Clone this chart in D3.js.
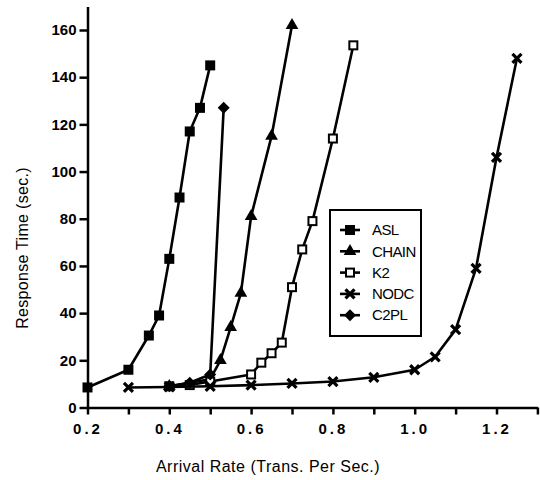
<!DOCTYPE html>
<html>
<head>
<meta charset="utf-8">
<script src="https://cdn.jsdelivr.net/npm/d3@7"></script>
<style>
  body { margin: 0; background: #fff; }
  text { font-family: "Liberation Sans", Arial, Helvetica, sans-serif; fill: #000; }
</style>
</head>
<body>
<div id="svgcontainer"></div>
<script>
// values
var seriesNames = ["ASL", "CHAIN", "K2", "NODC", "C2PL"];

var aslX = [0.2, 0.3, 0.35, 0.375, 0.4, 0.425, 0.45, 0.475, 0.5];
var aslY = [8.5, 16, 30.5, 39, 63, 89, 117, 127, 145];

var chainX = [0.4, 0.5, 0.525, 0.55, 0.575, 0.6, 0.65, 0.7];
var chainY = [9, 12, 20, 34, 48.5, 81, 115, 162];

var k2X = [0.4, 0.45, 0.5, 0.6, 0.625, 0.65, 0.675, 0.7, 0.725, 0.75, 0.8, 0.85];
var k2Y = [9, 9.5, 11, 14, 19, 23, 27.5, 51, 67, 79, 114, 153.5];

var nodcX = [0.3, 0.4, 0.5, 0.6, 0.7, 0.8, 0.9, 1.0, 1.05, 1.1, 1.15, 1.2, 1.25];
var nodcY = [8.5, 8.7, 9, 9.5, 10.2, 11, 12.8, 16, 21.5, 33, 59, 106, 148];

var c2plX = [0.4, 0.45, 0.5, 0.533];
var c2plY = [9, 10.5, 14, 127];

var xTicks = [0.2, 0.3, 0.4, 0.5, 0.6, 0.7, 0.8, 0.9, 1.0, 1.1, 1.2, 1.3];
var yTicks = [0, 20, 40, 60, 80, 100, 120, 140, 160];

/**
 * sizes
 */
var width = 540, height = 480;

var svg = d3.select("#svgcontainer")
    .append("svg")
    .attr("width", width)
    .attr("height", height);

var x = d3.scaleLinear().domain([0.2, 1.3]).range([87.5, 537.4]);
var y = d3.scaleLinear().domain([0, 170]).range([407.5, 6.4]);

/**
 * axes
 */
var xAxis = svg.append("g")
    .attr("transform", "translate(0," + y(0) + ")")
    .call(d3.axisBottom(x)
        .tickValues(xTicks)
        .tickSize(7)
        .tickSizeOuter(0)
        .tickFormat(function(d) {
            var s = d3.format(".1f")(d);
            return Math.round(d * 10) % 2 === 0 ? s : "";
        }));
xAxis.select(".domain").attr("stroke-width", 2.5).attr("stroke", "#000");
xAxis.selectAll(".tick line").attr("stroke-width", 2.5);
xAxis.selectAll(".tick text")
    .attr("y", 16)
    .style("font-size", "15px")
    .style("font-weight", "bold")
    .style("letter-spacing", "3px");

var yAxis = svg.append("g")
    .attr("transform", "translate(" + x(0.2) + ",0)")
    .call(d3.axisLeft(y)
        .tickValues(yTicks)
        .tickSize(8)
        .tickSizeOuter(0));
yAxis.select(".domain").attr("stroke-width", 2.5).attr("stroke", "#000");
yAxis.selectAll(".tick line").attr("stroke-width", 2.5);
yAxis.selectAll(".tick text")
    .attr("x", -11)
    .style("font-size", "15px")
    .style("font-weight", "bold");

svg.append("text")
    .attr("x", 268)
    .attr("y", 472)
    .attr("text-anchor", "middle")
    .style("font-size", "16px")
    .style("letter-spacing", "0.5px")
    .text("Arrival  Rate (Trans. Per Sec.)");

svg.append("text")
    .attr("transform", "translate(28,248) rotate(-90)")
    .attr("text-anchor", "middle")
    .style("font-size", "16px")
    .style("letter-spacing", "0.3px")
    .text("Response Time (sec.)");

/**
 * markers
 */
function marker(g, kind) {
    if (kind === "ASL") {
        g.append("rect").attr("x", -5).attr("y", -5).attr("width", 10).attr("height", 10).attr("fill", "#000");
    } else if (kind === "CHAIN") {
        g.append("path").attr("d", d3.symbol().type(d3.symbolTriangle).size(70)()).attr("fill", "#000");
    } else if (kind === "K2") {
        g.append("rect").attr("x", -4).attr("y", -4).attr("width", 8).attr("height", 8)
            .attr("fill", "#fff").attr("stroke", "#000").attr("stroke-width", 2);
    } else if (kind === "NODC") {
        g.append("path").attr("d", "M-4.5,-4.5L4.5,4.5M-4.5,4.5L4.5,-4.5")
            .attr("stroke", "#000").attr("stroke-width", 3.2).attr("fill", "none");
    } else {
        g.append("path").attr("d", "M0,-6L6,0L0,6L-6,0Z").attr("fill", "#000");
    }
}

var series = [
    { name: "ASL", xs: aslX, ys: aslY },
    { name: "CHAIN", xs: chainX, ys: chainY },
    { name: "K2", xs: k2X, ys: k2Y },
    { name: "NODC", xs: nodcX, ys: nodcY },
    { name: "C2PL", xs: c2plX, ys: c2plY }
];

var line = d3.line()
    .x(function(d) { return x(d[0]); })
    .y(function(d) { return y(d[1]); });

series.forEach(function(s) {
    var pts = d3.zip(s.xs, s.ys);
    svg.append("path")
        .datum(pts)
        .attr("fill", "none")
        .attr("stroke", "#000")
        .attr("stroke-width", 2.6)
        .attr("stroke-linejoin", "round")
        .attr("d", line);
    pts.forEach(function(p) {
        var g = svg.append("g").attr("transform", "translate(" + x(p[0]) + "," + y(p[1]) + ")");
        marker(g, s.name);
    });
});

/**
 * legend
 */
var legend = svg.append("g").attr("transform", "translate(330,210)");
legend.append("rect")
    .attr("width", 91)
    .attr("height", 126)
    .attr("fill", "#fff")
    .attr("stroke", "#000")
    .attr("stroke-width", 2);

seriesNames.forEach(function(name, i) {
    var row = legend.append("g").attr("transform", "translate(0," + (20 + i * 21.3) + ")");
    row.append("line")
        .attr("x1", 10).attr("x2", 30)
        .attr("stroke", "#000").attr("stroke-width", 2.6);
    marker(row.append("g").attr("transform", "translate(20,0)"), name);
    row.append("text")
        .attr("x", 42)
        .attr("dy", "0.35em")
        .style("font-size", "15px")
        .style("letter-spacing", "-0.6px")
        .text(name);
});
</script>
</body>
</html>
